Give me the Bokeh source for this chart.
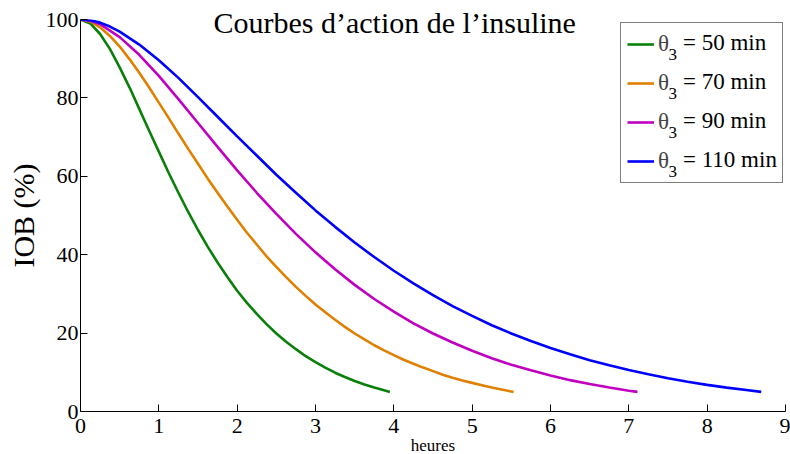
import math
from bokeh.plotting import figure
from bokeh.models import Range1d, FixedTicker, Label, Legend, LegendItem, Title
from bokeh.embed import file_html
from bokeh.resources import INLINE

# ---- data (hours, IOB %) ----
hours_50 = [0, 0.125, 0.25, 0.375, 0.5, 0.625, 0.75, 0.875, 1.0, 1.125, 1.25, 1.375, 1.5,
            1.625, 1.75, 1.875, 2.0, 2.125, 2.25, 2.375, 2.5, 2.625, 2.75, 2.875, 3.0, 3.125,
            3.25, 3.375, 3.5, 3.625, 3.75, 3.875, 3.95]
iob_50 = [100, 99.0, 96.3, 92.5, 87.8, 82.7, 77.2, 71.7, 66.3, 60.9, 55.8, 50.9, 46.3,
          42.0, 38.0, 34.3, 30.8, 27.7, 24.9, 22.3, 19.9, 17.8, 15.9, 14.1, 12.6, 11.2,
          9.9, 8.8, 7.8, 6.9, 6.1, 5.4, 5.0]

hours_70 = [0, 0.125, 0.25, 0.375, 0.5, 0.625, 0.75, 0.875, 1.0, 1.125, 1.25, 1.375, 1.5,
            1.625, 1.75, 1.875, 2.0, 2.125, 2.25, 2.375, 2.5, 2.625, 2.75, 2.875, 3.0, 3.125,
            3.25, 3.375, 3.5, 3.625, 3.75, 3.875, 4.0, 4.125, 4.25, 4.375, 4.5, 4.625, 4.75,
            4.875, 5.0, 5.125, 5.25, 5.375, 5.5, 5.53]
iob_70 = [100, 99.5, 98.0, 95.8, 93.1, 89.9, 86.4, 82.7, 78.8, 74.9, 70.9, 67.0, 63.2,
          59.4, 55.8, 52.3, 48.9, 45.6, 42.6, 39.6, 36.9, 34.3, 31.8, 29.5, 27.3, 25.3,
          23.4, 21.6, 19.9, 18.4, 16.9, 15.6, 14.4, 13.2, 12.2, 11.2, 10.3, 9.4, 8.6,
          7.9, 7.3, 6.7, 6.1, 5.6, 5.1, 5.0]

hours_90 = [0, 0.125, 0.25, 0.5, 0.75, 1.0, 1.25, 1.5, 1.75, 2.0, 2.25, 2.5, 2.75, 3.0, 3.25,
            3.5, 3.75, 4.0, 4.25, 4.5, 4.75, 5.0, 5.25, 5.5, 5.75, 6.0, 6.25, 6.5, 6.75, 7.0, 7.11]
iob_90 = [100, 99.7, 98.8, 95.5, 91.0, 85.6, 79.7, 73.6, 67.5, 61.5, 55.8, 50.4, 45.3, 40.6, 36.3,
          32.3, 28.7, 25.5, 22.5, 19.9, 17.6, 15.5, 13.6, 11.9, 10.5, 9.2, 8.0, 7.0, 6.1, 5.3, 5.0]

hours_110 = [0, 0.125, 0.25, 0.375, 0.5, 0.75, 1.0, 1.25, 1.5, 1.75, 2.0, 2.25, 2.5, 2.75, 3.0,
             3.25, 3.5, 3.75, 4.0, 4.25, 4.5, 4.75, 5.0, 5.25, 5.5, 5.75, 6.0, 6.25, 6.5, 6.75,
             7.0, 7.25, 7.5, 7.75, 8.0, 8.25, 8.5, 8.69]
iob_110 = [100, 99.8, 99.2, 98.2, 96.9, 93.6, 89.6, 85.1, 80.2, 75.2, 70.2, 65.3, 60.4, 55.8, 51.3,
           47.1, 43.1, 39.4, 35.9, 32.7, 29.7, 26.9, 24.4, 22.0, 19.9, 18.0, 16.2, 14.6, 13.1, 11.8,
           10.6, 9.5, 8.5, 7.6, 6.8, 6.1, 5.5, 5.0]

theta_minutes = ["50", "70", "90", "110"]
x_ticks = [0, 1, 2, 3, 4, 5, 6, 7, 8, 9]
y_ticks = [0, 20, 40, 60, 80, 100]
title_text = "Courbes d\u2019action de l\u2019insuline"
x_label = "heures"
y_label = "IOB (%)"

colors = ["#0A800A", "#E08000", "#C000C0", "#0000FF"]
series = [(hours_50, iob_50), (hours_70, iob_70), (hours_90, iob_90), (hours_110, iob_110)]

FONT = "Liberation Serif"

p = figure(width=790, height=454, output_backend="svg", toolbar_location=None,
           x_range=Range1d(0, 9), y_range=Range1d(0, 100),
           min_border_left=80, min_border_right=5, min_border_top=19, min_border_bottom=43)
p.background_fill_color = "white"
p.border_fill_color = "white"
p.outline_line_color = None
p.xgrid.visible = False
p.ygrid.visible = False

# title (drawn down into the top area, like the reference)
p.title.text = title_text
p.title.text_font = FONT
p.title.text_font_size = "30px"
p.title.text_font_style = "normal"
p.title.text_color = "black"
p.title.align = "left"
p.title.offset = 133
p.title.vertical_align = "bottom"
p.title.standoff = -38

for ax in (p.xaxis[0], p.yaxis[0]):
    ax.axis_line_color = "black"
    ax.axis_line_width = 1
    ax.major_tick_line_color = "black"
    ax.major_tick_in = 7
    ax.major_tick_out = 0
    ax.minor_tick_line_color = None
    ax.major_label_text_font = FONT
    ax.major_label_text_font_size = "22px"
    ax.major_label_text_color = "black"
    ax.axis_label_text_font = FONT
    ax.axis_label_text_font_style = "normal"
    ax.axis_label_text_color = "black"
p.xaxis[0].ticker = FixedTicker(ticks=x_ticks)
p.yaxis[0].ticker = FixedTicker(ticks=y_ticks)
p.xaxis[0].major_label_standoff = 7
p.yaxis[0].major_label_standoff = 2
p.yaxis[0].axis_label = y_label
p.yaxis[0].axis_label_text_font_size = "30px"
p.yaxis[0].axis_label_standoff = 3

# x-axis label as a compact title below the axis
xlab = Title(text=x_label, align="center", vertical_align="bottom", standoff=-4,
             text_font=FONT, text_font_size="17px", text_font_style="normal",
             text_color="black")
p.add_layout(xlab, "below")

renderers = []
for (h, v), c in zip(series, colors):
    r = p.line(h, v, line_color=c, line_width=2.6)
    renderers.append(r)

# legend (box + line samples + theta)
items = [LegendItem(label="\u03b8", renderers=[r]) for r in renderers]
legend = Legend(items=items, location=(540, 228))
legend.label_text_font = FONT
legend.label_text_font_size = "23px"
legend.glyph_width = 27
legend.glyph_height = 30
legend.label_height = 30
legend.label_width = 118
legend.label_standoff = 4
legend.spacing = 9
legend.padding = 6
legend.margin = 0
legend.border_line_color = "black"
legend.border_line_width = 1
legend.background_fill_alpha = 0
p.add_layout(legend)

for k, m in enumerate(theta_minutes):
    yc = 369 - 39 * k
    p.add_layout(Label(x=588, y=yc - 12, x_units="screen", y_units="screen", text="3",
                       text_font=FONT, text_font_size="17px", text_baseline="middle",
                       text_align="left", text_color="black", level="overlay"))
    p.add_layout(Label(x=602.5, y=yc, x_units="screen", y_units="screen",
                       text="= " + m + " min",
                       text_font=FONT, text_font_size="23px", text_baseline="middle",
                       text_align="left", text_color="black", level="overlay"))

open("out.html", "w").write(file_html(p, INLINE))
